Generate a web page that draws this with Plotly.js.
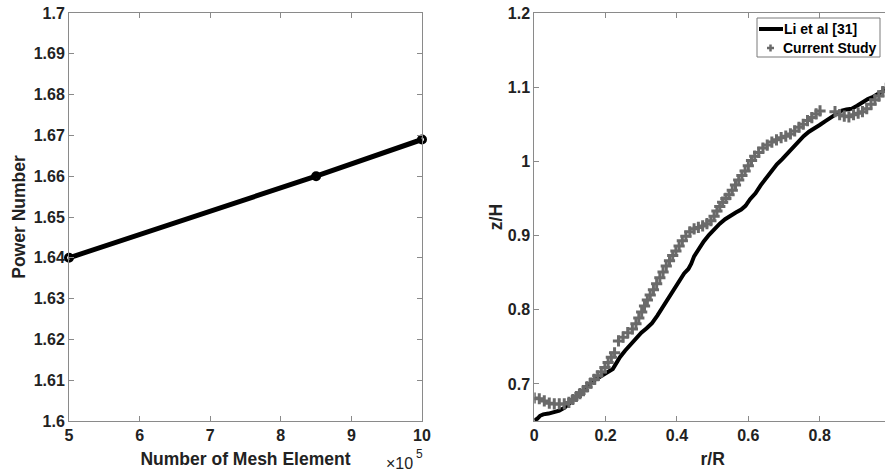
<!DOCTYPE html>
<html>
<head>
<meta charset="utf-8">
<script src="https://cdn.plot.ly/plotly-3.0.1.min.js"></script>
<style>
html, body { margin: 0; padding: 0; overflow: hidden; background: #fff; }
#chart { width: 892px; height: 472px; }
</style>
</head>
<body>
<div id="chart"></div>
<script>
// ---- Left panel: mesh independence ----
const meshElements = [500000, 850000, 1000000];
const powerNumber = [1.640, 1.660, 1.669];
const leftYTicks = [1.6, 1.61, 1.62, 1.63, 1.64, 1.65, 1.66, 1.67, 1.68, 1.69, 1.7];
const leftYTickText = ['1.6', '1.61', '1.62', '1.63', '1.64', '1.65', '1.66', '1.67', '1.68', '1.69', '1.7'];
const leftXTicks = [5, 6, 7, 8, 9, 10];
const leftXTickText = ['5', '6', '7', '8', '9', '10'];

// ---- Right panel: free surface profile ----
const seriesNames = ['Li et al [31]', 'Current Study'];
const liR = [0.000, 0.008, 0.016, 0.025, 0.040, 0.055, 0.070, 0.085, 0.100, 0.115, 0.130, 0.145, 0.160, 0.175, 0.190, 0.205, 0.220, 0.230, 0.240, 0.255, 0.270, 0.285, 0.300, 0.315, 0.330, 0.345, 0.360, 0.375, 0.390, 0.405, 0.420, 0.432, 0.440, 0.448, 0.460, 0.475, 0.490, 0.505, 0.520, 0.535, 0.550, 0.565, 0.580, 0.592, 0.605, 0.620, 0.635, 0.650, 0.665, 0.680, 0.695, 0.710, 0.725, 0.740, 0.755, 0.770, 0.785, 0.800, 0.815, 0.830, 0.845, 0.860, 0.875, 0.890, 0.905, 0.920, 0.935, 0.950, 0.965, 0.980, 1.000];
const liZ = [0.651, 0.653, 0.657, 0.659, 0.660, 0.662, 0.664, 0.668, 0.674, 0.681, 0.688, 0.695, 0.702, 0.707, 0.711, 0.715, 0.720, 0.728, 0.736, 0.745, 0.753, 0.762, 0.769, 0.775, 0.782, 0.792, 0.803, 0.814, 0.826, 0.838, 0.849, 0.855, 0.862, 0.872, 0.881, 0.892, 0.901, 0.909, 0.916, 0.922, 0.927, 0.931, 0.935, 0.940, 0.949, 0.957, 0.968, 0.978, 0.988, 0.996, 1.003, 1.011, 1.020, 1.028, 1.034, 1.040, 1.044, 1.049, 1.054, 1.059, 1.064, 1.068, 1.070, 1.071, 1.075, 1.080, 1.084, 1.087, 1.091, 1.095, 1.101];

const csR = [0.000, 0.014, 0.028, 0.042, 0.056, 0.070, 0.084, 0.097, 0.108, 0.118, 0.128, 0.138, 0.148, 0.158, 0.168, 0.178, 0.188, 0.198, 0.207, 0.216, 0.225, 0.236, 0.249, 0.262, 0.275, 0.285, 0.293, 0.301, 0.309, 0.317, 0.325, 0.334, 0.343, 0.352, 0.361, 0.370, 0.379, 0.388, 0.397, 0.406, 0.415, 0.425, 0.436, 0.448, 0.460, 0.472, 0.484, 0.495, 0.504, 0.512, 0.520, 0.528, 0.537, 0.546, 0.555, 0.564, 0.573, 0.582, 0.591, 0.600, 0.609, 0.618, 0.629, 0.641, 0.653, 0.666, 0.679, 0.692, 0.705, 0.718, 0.730, 0.742, 0.754, 0.766, 0.778, 0.790, 0.801, 0.843, 0.856, 0.869, 0.882, 0.895, 0.908, 0.920, 0.932, 0.944, 0.955, 0.966, 0.977, 0.988, 0.998];
const csZ = [0.681, 0.680, 0.677, 0.674, 0.673, 0.673, 0.673, 0.675, 0.679, 0.683, 0.687, 0.691, 0.696, 0.701, 0.706, 0.711, 0.716, 0.722, 0.729, 0.736, 0.742, 0.758, 0.763, 0.769, 0.774, 0.781, 0.789, 0.797, 0.805, 0.813, 0.820, 0.827, 0.835, 0.843, 0.851, 0.859, 0.866, 0.873, 0.879, 0.886, 0.893, 0.899, 0.905, 0.909, 0.911, 0.913, 0.916, 0.920, 0.926, 0.933, 0.939, 0.945, 0.950, 0.955, 0.961, 0.968, 0.975, 0.981, 0.987, 0.994, 1.001, 1.007, 1.012, 1.018, 1.022, 1.026, 1.029, 1.032, 1.034, 1.037, 1.041, 1.046, 1.050, 1.055, 1.059, 1.064, 1.068, 1.067, 1.063, 1.061, 1.060, 1.063, 1.065, 1.067, 1.071, 1.077, 1.083, 1.088, 1.094, 1.099, 1.104];
const rightXTicks = [0, 0.2, 0.4, 0.6, 0.8, 1];
const rightXTickText = ['0', '0.2', '0.4', '0.6', '0.8', '1'];
const rightYTicks = [0.7, 0.8, 0.9, 1, 1.1, 1.2];
const rightYTickText = ['0.7', '0.8', '0.9', '1', '1.1', '1.2'];

const FONT = 'Liberation Sans, Arial, Helvetica, sans-serif';
const TXT = '#222222';
const AX = '#8a8a8a';
const GRAY = '#6a6a6a';

const bold = arr => arr.map(t => '<b>' + t + '</b>');

const traces = [
  {
    x: meshElements.map(v => v / 1e5), y: powerNumber,
    xaxis: 'x', yaxis: 'y', type: 'scatter', mode: 'lines+markers', cliponaxis: false,
    line: {color: '#000', width: 5},
    marker: {symbol: 'circle-open', size: 7, color: '#000', line: {color: '#000', width: 3}},
    showlegend: false
  },
  {
    x: liR, y: liZ, xaxis: 'x2', yaxis: 'y2', type: 'scatter', mode: 'lines',
    name: seriesNames[0], line: {color: '#000', width: 4}, showlegend: false
  },
  {
    x: csR, y: csZ, xaxis: 'x2', yaxis: 'y2', type: 'scatter', mode: 'markers',
    name: seriesNames[1], showlegend: false,
    marker: {symbol: 'cross-thin-open', size: 8, color: GRAY, line: {color: GRAY, width: 3}}
  }
];

function axis(extra) {
  return Object.assign({
    showgrid: false, zeroline: false, showline: true, linecolor: AX, linewidth: 1,
    mirror: 'ticks', ticks: 'inside', ticklen: 5, tickcolor: AX, tickwidth: 1,
    tickfont: {family: FONT, size: 16, color: TXT, weight: 700}
  }, extra);
}
function tfont() { return {family: FONT, size: 17.5, color: TXT, weight: 700}; }

// pixel -> paper helpers (plot area: left 69, top 13, width 822, height 408)
const px = v => (v - 69) / 822;
const py = v => (421 - v) / 408;

const legendShapes = [
  {type: 'rect', xref: 'paper', yref: 'paper', x0: px(757), x1: px(880), y0: py(57), y1: py(18),
   line: {color: '#7a7a7a', width: 1}, fillcolor: '#fff', layer: 'above'},
  {type: 'line', xref: 'paper', yref: 'paper', x0: px(759), x1: px(783), y0: py(29), y1: py(29),
   line: {color: '#000', width: 4}, layer: 'above'},
  {type: 'line', xref: 'paper', yref: 'paper', x0: px(767), x1: px(774), y0: py(48), y1: py(48),
   line: {color: GRAY, width: 2.5}, layer: 'above'},
  {type: 'line', xref: 'paper', yref: 'paper', x0: px(770.5), x1: px(770.5), y0: py(44.5), y1: py(51.5),
   line: {color: GRAY, width: 2.5}, layer: 'above'}
];

const layout = {
  width: 892, height: 472,
  margin: {l: 69, r: 1, t: 13, b: 51},
  paper_bgcolor: '#fff', plot_bgcolor: '#fff',
  showlegend: false,
  xaxis: axis({
    domain: [0, 353 / 822], range: [5, 10], tickvals: leftXTicks, ticktext: bold(leftXTickText),
    title: {text: '<b>Number of Mesh Element</b>', font: tfont(), standoff: 9}
  }),
  yaxis: axis({
    domain: [0, 1], range: [1.6, 1.7], tickvals: leftYTicks, ticktext: bold(leftYTickText),
    title: {text: '<b>Power Number</b>', font: tfont(), standoff: 3}
  }),
  xaxis2: axis({
    domain: [465.3 / 822, 1], range: [0, 1], tickvals: rightXTicks, ticktext: bold(rightXTickText), anchor: 'y2',
    title: {text: '<b>r/R</b>', font: tfont(), standoff: 9}
  }),
  yaxis2: axis({
    domain: [0, 1], range: [0.65, 1.2], tickvals: rightYTicks, ticktext: bold(rightYTickText), anchor: 'x2',
    title: {text: '<b>z/H</b>', font: tfont(), standoff: 0}
  }),
  shapes: legendShapes,
  annotations: [
    {xref: 'paper', yref: 'paper', x: px(414), y: py(463),
     xanchor: 'right', yanchor: 'middle', showarrow: false, borderpad: 0,
     text: '×10', font: {family: FONT, size: 16, color: TXT}},
    {xref: 'paper', yref: 'paper', x: px(414.5), y: py(454),
     xanchor: 'left', yanchor: 'middle', showarrow: false, borderpad: 0,
     text: '5', font: {family: FONT, size: 12, color: TXT}},
    {xref: 'paper', yref: 'paper', x: px(783), y: py(29.5),
     xanchor: 'left', yanchor: 'middle', showarrow: false, borderpad: 0,
     text: '<b>' + seriesNames[0] + '</b>', font: {family: FONT, size: 14, color: '#000'}},
    {xref: 'paper', yref: 'paper', x: px(782), y: py(48),
     xanchor: 'left', yanchor: 'middle', showarrow: false, borderpad: 0,
     text: '<b>' + seriesNames[1] + '</b>', font: {family: FONT, size: 14, color: '#000'}}
  ]
};

Plotly.newPlot('chart', traces, layout, {staticPlot: true, displayModeBar: false});
</script>
</body>
</html>
